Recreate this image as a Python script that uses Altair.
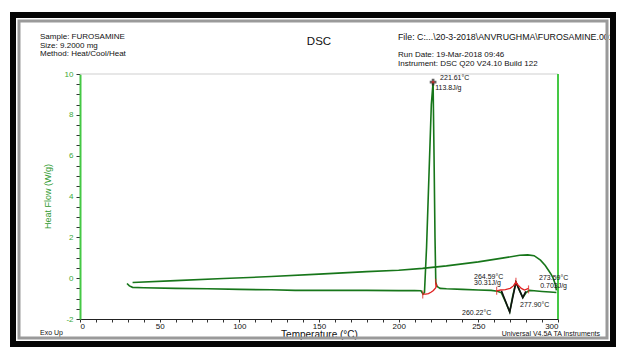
import altair as alt
import pandas as pd

# ---- data ----
heat_T = [29.5, 31, 33, 40, 60, 80, 100, 120, 135, 140, 160, 180, 200, 210, 214,
          215.3, 216.2, 217.5, 219, 220.5, 221.6, 222.2, 222.8, 223.3, 224,
          226, 230, 240, 250, 258, 262, 264.5, 267, 269.7, 271.5,
          273.6, 275.5, 277.9, 280, 282, 285, 290, 295, 299]
heat_HF = [-0.26, -0.38, -0.45, -0.47, -0.5, -0.52, -0.55, -0.57, -0.6, -0.59,
           -0.6, -0.6, -0.61, -0.61, -0.62, -0.78, -0.7, 1.5, 5.0, 8.5,
           9.6, 6.0, 2.0, -0.2, -0.4, -0.5, -0.52, -0.55, -0.58, -0.6,
           -0.64, -0.72, -1.15, -1.65, -0.9, -0.2, -0.55, -0.95, -0.7, -0.6,
           -0.62, -0.65, -0.68, -0.7]

cool_T = [299, 298.3, 297, 296, 294, 292, 289, 285, 281, 276, 265, 250, 230,
          215, 200, 180, 150, 120, 90, 60, 33]
cool_HF = [-0.6, -0.3, -0.01, 0.15, 0.39, 0.62, 0.88, 1.1, 1.14, 1.12, 0.98,
           0.8, 0.6, 0.48, 0.39, 0.32, 0.2, 0.08, -0.02, -0.12, -0.21]

dip_T = [264.5, 269.7, 273.6, 277.9, 279.8]
dip_HF = [-0.62, -1.65, -0.2, -0.95, -0.65]

base1_T = [215.1, 217, 218.7, 220.5, 221.8, 223.2, 223.9, 223.2]
base1_HF = [-0.78, -0.78, -0.76, -0.68, -0.6, -0.48, -0.36, -0.22]
base2_T = [261.5, 264, 267, 270, 272, 273.6, 275, 277, 279, 281.5]
base2_HF = [-0.62, -0.58, -0.56, -0.5, -0.38, -0.18, -0.35, -0.5, -0.58, -0.5]

mark_T = [215.1, 223.2, 261.5, 273.6, 281.5]
mark_HF = [-0.8, -0.22, -0.62, -0.18, -0.55]

peak_T = [221.6]
peak_HF = [9.6]

ann_text = ["221.61°C", "113.8J/g", "264.59°C", "30.31J/g", "273.59°C",
            "0.703J/g", "260.22°C", "277.90°C"]
ann_T = [226.0, 222.9, 247.3, 247.3, 288.1, 288.8, 239.8, 276.2]
ann_HF = [9.82, 9.3, 0.08, -0.25, 0.01, -0.36, -1.70, -1.32]

FONT = "Liberation Sans"
GREEN_AX = "#45c845"
CURVE = "#17761a"

def line_df(T, HF):
    return pd.DataFrame({"T": T, "HF": HF, "i": list(range(len(T)))})

xscale = alt.Scale(domain=[0, 300], nice=False, zero=False)
yscale = alt.Scale(domain=[-2, 10], nice=False, zero=False)

xaxis = alt.Axis(
    values=list(range(0, 301, 10)),
    labelExpr="datum.value % 50 == 0 ? '' + datum.value : ''",
    labelOverlap=False, grid=False, tickSize=3, tickColor="#333",
    domainColor="#222", domainWidth=1, labelColor="#111", labelFontSize=8,
    labelFont=FONT, labelPadding=0, title="Temperature (°C)",
    titleFont=FONT, titleFontSize=10, titleFontWeight="normal",
    titleColor="#111", titleY=15.5, titleBaseline="middle")

yvals = [v / 2 for v in range(-4, 21)]
yaxis = alt.Axis(
    values=yvals,
    labelExpr="datum.value % 2 == 0 ? '' + datum.value : ''",
    labelOverlap=False, grid=False, tickSize=4, tickColor="#333",
    domainColor=GREEN_AX, domainWidth=2, labelColor="#39a839",
    labelFontSize=8, labelFont=FONT, labelPadding=3,
    title="Heat Flow (W/g)", titleFont=FONT, titleFontSize=9,
    titleFontWeight="normal", titleColor="#2f9a2f", titleX=-33,
    titleY=122, titleAlign="center", titleBaseline="middle")

X = alt.X("T:Q", scale=xscale, axis=xaxis)
Y = alt.Y("HF:Q", scale=yscale, axis=yaxis)

def path(T, HF, color, width):
    return alt.Chart(line_df(T, HF)).mark_line(
        color=color, strokeWidth=width, clip=True).encode(x=X, y=Y, order="i:Q")

one = alt.Data(values=[{}])

def txt(s, x, y, size=8, align="left", color="#111", weight="normal"):
    return alt.Chart(one).mark_text(
        text=s, font=FONT, fontSize=size, align=align, baseline="middle",
        color=color, fontWeight=weight).encode(x=alt.value(x), y=alt.value(y))

curves = [
    path(heat_T, heat_HF, CURVE, 1.6),
    path(cool_T, cool_HF, CURVE, 1.6),
    path(dip_T, dip_HF, "#111111", 1.6),
    path(base1_T, base1_HF, "#e02020", 1.3),
    path(base2_T, base2_HF, "#e02020", 1.3),
]

ticks = alt.Chart(line_df(mark_T, mark_HF)).mark_tick(
    color="#e02020", orient="vertical", size=8, thickness=1.2).encode(x=X, y=Y)

peak = alt.Chart(line_df(peak_T, peak_HF)).mark_point(
    shape="cross", filled=True, color="#222", size=45).encode(x=X, y=Y)
peak_dot = alt.Chart(line_df(peak_T, peak_HF)).mark_point(
    shape="circle", filled=True, color="#e02020", size=8).encode(x=X, y=Y)

ann = alt.Chart(pd.DataFrame({"t": ann_text, "T": ann_T, "HF": ann_HF})).mark_text(
    font=FONT, fontSize=7, align="left", baseline="middle", color="#111").encode(
    x=X, y=Y, text="t:N")

right_line = alt.Chart(one).mark_rule(color=GREEN_AX, strokeWidth=2).encode(
    x=alt.datum(300, scale=xscale, axis=xaxis), y=alt.value(0), y2=alt.value(245))
top_line = alt.Chart(one).mark_rule(color="#cfcfcf", strokeWidth=1).encode(
    y=alt.datum(10, scale=yscale, axis=yaxis), x=alt.value(0), x2=alt.value(478))

frame_gray = alt.Chart(one).mark_rect(
    fillOpacity=0, stroke="#9a9a9a", strokeWidth=3).encode(
    x=alt.value(-61), x2=alt.value(527), y=alt.value(-53), y2=alt.value(264))
frame_black = alt.Chart(one).mark_rect(
    fillOpacity=0, stroke="#050505", strokeWidth=6).encode(
    x=alt.value(-67), x2=alt.value(533), y=alt.value(-59), y2=alt.value(270))

texts = [
    txt("Sample: FUROSAMINE", -40, -37),
    txt("Size:  9.2000 mg", -40, -28.5),
    txt("Method: Heat/Cool/Heat", -40, -20),
    txt("DSC", 239, -32, size=11.5, align="center"),
    txt("File: C:...\\20-3-2018\\ANVRUGHMA\\FUROSAMINE.001", 318, -37, size=8.8),
    txt("Run Date: 19-Mar-2018 09:46", 318, -19.5, size=8),
    txt("Instrument: DSC Q20 V24.10 Build 122", 318, -10.5, size=8),
    txt("Exo Up", -40, 259, size=7),
    txt("Universal V4.5A TA Instruments", 520, 260, size=7, align="right"),
]

chart = alt.layer(
    top_line, right_line, *curves, ticks, peak, peak_dot, ann, *texts,
    frame_gray, frame_black
).properties(
    width=478, height=245,
    padding={"left": 80, "top": 74, "right": 60, "bottom": 30},
    autosize=alt.AutoSizeParams(type="none"),
    background="white",
).configure_view(stroke=None)

chart.save("out.html", embed_options={"renderer": "svg", "actions": False})
